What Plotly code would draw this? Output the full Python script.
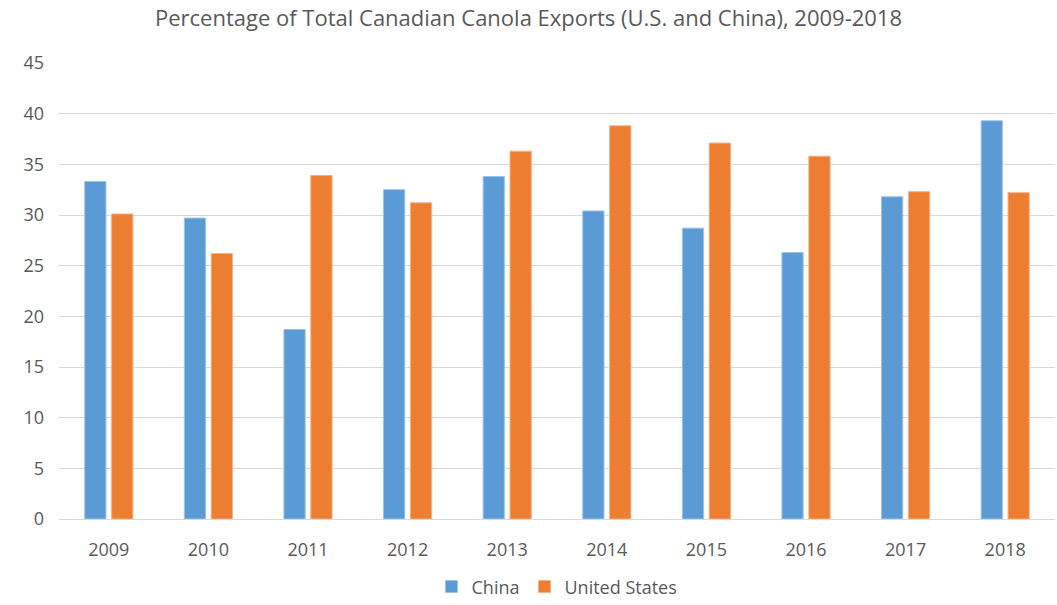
import plotly.graph_objects as go

years = ["2009", "2010", "2011", "2012", "2013", "2014", "2015", "2016", "2017", "2018"]
china = [33.3, 29.7, 18.7, 32.5, 33.8, 30.4, 28.7, 26.3, 31.8, 39.3]
united_states = [30.1, 26.2, 33.9, 31.2, 36.3, 38.8, 37.1, 35.8, 32.3, 32.2]

fig = go.Figure()
fig.add_trace(go.Bar(x=years, y=china, name="China",
                     marker=dict(color="#5B9BD5", line=dict(color="#9DC3E6", width=1))))
fig.add_trace(go.Bar(x=years, y=united_states, name="United States",
                     marker=dict(color="#ED7D31", line=dict(color="#F4B183", width=1))))

fig.update_layout(
    width=1057, height=605,
    margin=dict(l=59, r=2, t=63, b=86, autoexpand=False),
    paper_bgcolor="white", plot_bgcolor="white",
    font=dict(family="Open Sans", color="#595959", size=18),
    title=dict(text="Percentage of Total Canadian Canola Exports (U.S. and China), 2009-2018",
               x=0.5, xanchor="center", y=0.97, yanchor="middle",
               font=dict(size=22, color="#595959")),
    barmode="group", bargap=0.46, bargroupgap=0.21,
    legend=dict(orientation="h", x=0.5, xanchor="center", yref="container",
                y=0.03, yanchor="middle",
                font=dict(size=18, color="#595959")),
    xaxis=dict(showgrid=False, showline=False, ticks="", tickfont=dict(size=18),
               ticklabelstandoff=18),
    yaxis=dict(range=[0, 45], dtick=5, gridcolor="#D9D9D9", gridwidth=1,
               zeroline=True, zerolinecolor="#D9D9D9", zerolinewidth=1,
               showline=False, ticks="", tickfont=dict(size=18),
               ticklabelstandoff=14),
)
fig.write_html("out.html")
